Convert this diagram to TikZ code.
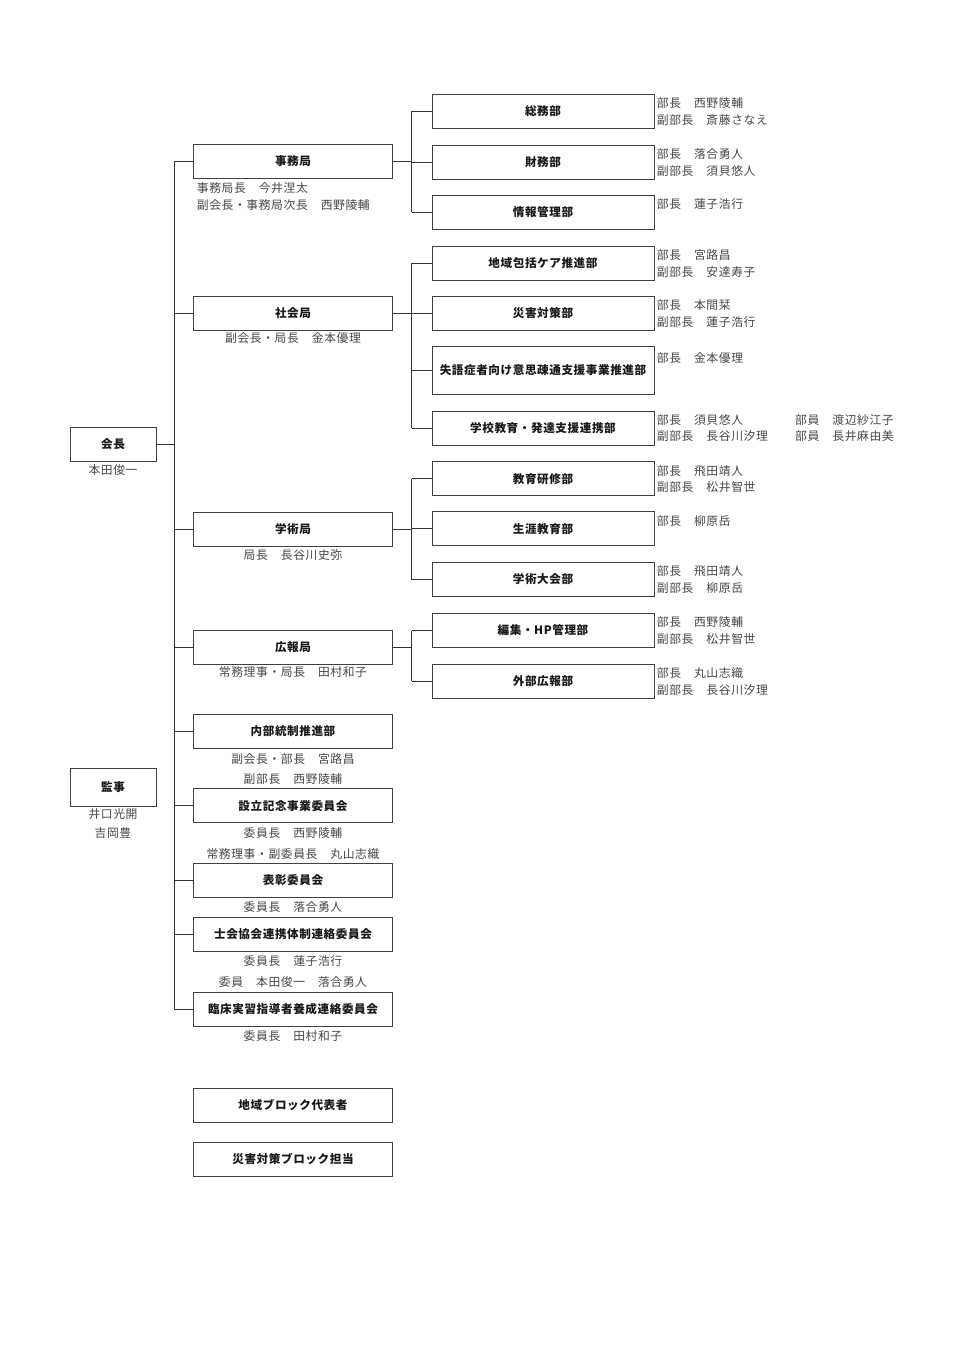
\documentclass[tikz,border=0pt]{standalone}
\usepackage{fontspec}
\newfontfamily\cjk[LetterSpace=5]{Noto Sans CJK JP}
\begin{document}
\begin{tikzpicture}[x=1pt,y=-1pt,
  bx/.style={draw=black!75, line width=0.9pt, fill=white, inner sep=0pt,
    minimum height=34pt, text=black!90,
    font=\cjk\bfseries\fontsize{11.6}{13}\selectfont},
  lv1/.style={bx, minimum width=86pt},
  lv2/.style={bx, minimum width=199pt},
  lv3/.style={bx, minimum width=222pt},
  info/.style={anchor=west, inner sep=0pt, text=black!72,
    font=\cjk\fontsize{11.8}{13}\selectfont},
  sub/.style={anchor=center, inner sep=0pt, text=black!72,
    font=\cjk\fontsize{11.8}{13}\selectfont},
  conn/.style={draw=black!80, line width=0.8pt}]
\useasboundingbox (0,0) rectangle (960,1356);

% level 1
\node[lv1] (kaicho) at (113,444.5) {会長};
\node[sub] (kaichoN) at (113,470) {本田俊一};
\node[lv1, minimum height=38pt] (kanji) at (113,787) {監事};
\node[sub] (kanjiA) at (113,814.3) {井口光開};
\node[sub] (kanjiB) at (113,833.3) {吉岡豊};

% level 2
\node[lv2] (jimu) at (293,161.5) {事務局};
\node[info] (jimuA) at (196.7,188.3) {事務局長　今井涅太};
\node[info] (jimuB) at (196.7,205) {副会長・事務局次長　西野陵輔};
\node[lv2] (shakai) at (293,313.3) {社会局};
\node[sub] (shakaiA) at (293,338.3) {副会長・局長　金本優理};
\node[lv2] (gakujutsu) at (293,529) {学術局};
\node[sub] (gakujutsuA) at (293,555) {局長　長谷川史弥};
\node[lv2] (koho) at (293,647) {広報局};
\node[sub] (kohoA) at (293,672.3) {常務理事・局長　田村和子};
\node[lv2] (naibu) at (293,731) {内部統制推進部};
\node[sub] (naibuA) at (293,759) {副会長・部長　宮路昌};
\node[sub] (naibuB) at (293,779) {副部長　西野陵輔};
\node[lv2] (setsuritsu) at (293,805.7) {設立記念事業委員会};
\node[sub] (setsuA) at (293,832.7) {委員長　西野陵輔};
\node[sub] (setsuB) at (293,854) {常務理事・副委員長　丸山志織};
\node[lv2] (hyosho) at (293,880.3) {表彰委員会};
\node[sub] (hyoshoA) at (293,907) {委員長　落合勇人};
\node[lv2] (shikai) at (293,934) {士会協会連携体制連絡委員会};
\node[sub] (shikaiA) at (293,960.7) {委員長　蓮子浩行};
\node[sub] (shikaiB) at (293,981.7) {委員　本田俊一　落合勇人};
\node[lv2] (rinsho) at (293,1009) {臨床実習指導者養成連絡委員会};
\node[sub] (rinshoA) at (293,1036) {委員長　田村和子};
\node[lv2] (chiiki) at (293,1105) {地域ブロック代表者};
\node[lv2] (saigaiB) at (293,1159) {災害対策ブロック担当};

% level 3
\node[lv3] (somu) at (543,111.2) {総務部};
\node[info] at (656.7,103.3) {部長　西野陵輔};
\node[info] at (656.7,120) {副部長　斎藤さなえ};
\node[lv3] (zaimu) at (543,162) {財務部};
\node[info] at (656.7,154) {部長　落合勇人};
\node[info] at (656.7,170.7) {副部長　須貝悠人};
\node[lv3] (joho) at (543,212.5) {情報管理部};
\node[info] at (656.7,204.5) {部長　蓮子浩行};
\node[lv3] (hokatsu) at (543,263) {地域包括ケア推進部};
\node[info] at (656.7,255) {部長　宮路昌};
\node[info] at (656.7,271.7) {副部長　安達寿子};
\node[lv3] (saigai) at (543,313.3) {災害対策部};
\node[info] at (656.7,305.3) {部長　本間栞};
\node[info] at (656.7,322) {副部長　蓮子浩行};
\node[lv3, minimum height=47.6pt] (shitsugo) at (543,370.5) {失語症者向け意思疎通支援事業推進部};
\node[info] at (656.7,358) {部長　金本優理};
\node[lv3] (gakko) at (543,428) {学校教育・発達支援連携部};
\node[info] at (656.7,419.7) {部長　須貝悠人};
\node[info] at (656.7,436.3) {副部長　長谷川汐理};
\node[info] at (795,419.7) {部員　渡辺紗江子};
\node[info] at (795,436.3) {部員　長井麻由美};
\node[lv3] (kenshu) at (543,478.7) {教育研修部};
\node[info] at (656.7,470.7) {部長　飛田靖人};
\node[info] at (656.7,487.3) {副部長　松井智世};
\node[lv3] (shogai) at (543,528.8) {生涯教育部};
\node[info] at (656.7,520.7) {部長　柳原岳};
\node[lv3] (taikai) at (543,579.5) {学術大会部};
\node[info] at (656.7,571.5) {部長　飛田靖人};
\node[info] at (656.7,588.2) {副部長　柳原岳};
\node[lv3] (henshu) at (543,630.5) {編集・HP管理部};
\node[info] at (656.7,622.5) {部長　西野陵輔};
\node[info] at (656.7,639.2) {副部長　松井智世};
\node[lv3] (gaibu) at (543,681) {外部広報部};
\node[info] at (656.7,673) {部長　丸山志織};
\node[info] at (656.7,689.7) {副部長　長谷川汐理};

% connectors
\coordinate (trunk) at (174.3,0);
\coordinate (br) at (411.7,0);
\draw[conn] (kaicho.east) -- (kaicho.east -| trunk);
\draw[conn] (jimu.west -| trunk) -- (rinsho.west -| trunk);
\foreach \n in {jimu,shakai,gakujutsu,koho,naibu,setsuritsu,hyosho,shikai,rinsho}
  \draw[conn] (\n.west -| trunk) -- (\n.west);
\foreach \p/\a/\b in {jimu/somu/joho, shakai/hokatsu/gakko, gakujutsu/kenshu/taikai, koho/henshu/gaibu}{
  \draw[conn] (\p.east) -- (\p.east -| br);
  \draw[conn] (\a.west -| br) -- (\b.west -| br);
}
\foreach \n in {somu,zaimu,joho,hokatsu,saigai,shitsugo,gakko,kenshu,shogai,taikai,henshu,gaibu}
  \draw[conn] (\n.west -| br) -- (\n.west);
\end{tikzpicture}
\end{document}
